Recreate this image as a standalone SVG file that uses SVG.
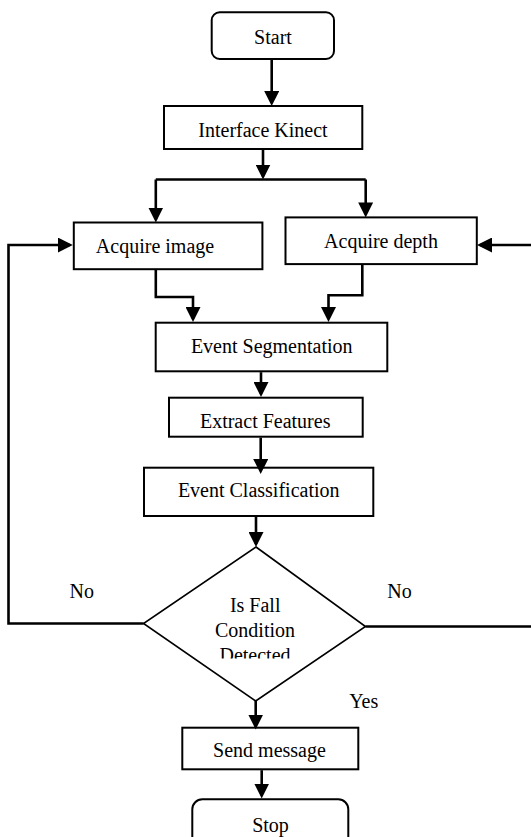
<svg xmlns="http://www.w3.org/2000/svg" width="531" height="837" viewBox="0 0 531 837">
<style>
.box{fill:#fff;stroke:#000;stroke-width:2}
.dia{fill:#fff;stroke:#000;stroke-width:1.6}
.con{fill:none;stroke:#000;stroke-width:2.6;marker-end:url(#ah)}
.ln{fill:none;stroke:#000;stroke-width:2.6}
text{font-family:"Liberation Serif","Times New Roman",Times,serif;font-size:20px;fill:#000;text-anchor:middle}
</style>
<defs>
<marker id="ah" markerUnits="userSpaceOnUse" markerWidth="16" markerHeight="15" refX="12" refY="7.5" orient="auto" viewBox="0 0 16 15">
<path d="M0,0 L15,7.5 L0,15 z" fill="#000"/>
</marker>
<clipPath id="dclip"><rect x="140" y="600" width="240" height="58.5"/></clipPath>
</defs>
<rect width="531" height="837" fill="#fff"/>
<g id="start">
<rect class="box" x="211.7" y="12.3" width="122.3" height="46.7" rx="8"/>
<text x="273" y="44">Start</text>
</g>
<g id="interface">
<rect class="box" x="164" y="106" width="198.3" height="43"/>
<text x="263" y="136.7">Interface Kinect</text>
</g>
<g id="acq-image">
<rect class="box" x="73.8" y="222.5" width="188.6" height="46.7"/>
<text x="155" y="253">Acquire image</text>
</g>
<g id="acq-depth">
<rect class="box" x="285.5" y="217.4" width="191.3" height="46.7"/>
<text x="381" y="248">Acquire depth</text>
</g>
<g id="segmentation">
<rect class="box" x="155.7" y="322.7" width="231.6" height="48.6"/>
<text x="271.7" y="352.7">Event Segmentation</text>
</g>
<g id="features">
<rect class="box" x="169" y="397.7" width="193.7" height="39"/>
<text x="265.2" y="427.7">Extract Features</text>
</g>
<g id="classification">
<rect class="box" x="144" y="467.7" width="229.3" height="48.3"/>
<text x="258.7" y="496.7">Event Classification</text>
</g>
<g id="decision">
<polygon class="dia" points="256,547 365.5,626.5 255.7,701 143.5,623.5"/>
<text x="255.2" y="612">Is Fall</text>
<text x="255" y="636.8">Condition</text>
<text x="255" y="661.5" clip-path="url(#dclip)">Detected</text>
</g>
<g id="labels">
<text x="81.7" y="598">No</text>
<text x="399.5" y="598">No</text>
<text x="363.7" y="708.3">Yes</text>
</g>
<g id="send">
<rect class="box" x="182.3" y="727.7" width="176" height="41.6"/>
<text x="269.5" y="757.3">Send message</text>
</g>
<g id="stop">
<rect class="box" x="192.3" y="799.3" width="156" height="60" rx="10"/>
<text x="270.5" y="831.5">Stop</text>
</g>
<g id="connectors">
<line class="con" x1="271.7" y1="60" x2="271.7" y2="103"/>
<line class="con" x1="263" y1="150" x2="263" y2="176.5"/>
<line class="ln" x1="155.8" y1="179.5" x2="365.7" y2="179.5"/>
<line class="con" x1="155.8" y1="179.5" x2="155.8" y2="219.5"/>
<line class="con" x1="365.7" y1="179.5" x2="365.7" y2="214.4"/>
<path class="con" d="M155.8,270 V297 H193 V319"/>
<path class="con" d="M362.3,265 V295.3 H328.5 V319"/>
<line class="con" x1="261" y1="372.2" x2="261" y2="394"/>
<line class="con" x1="260.7" y1="437.6" x2="260.7" y2="471"/>
<line class="con" x1="256" y1="516.8" x2="256" y2="544"/>
<path class="con" d="M143.5,623.5 H8.5 V245 H69.8"/>
<path class="con" d="M365.5,626.5 H545 V245 H480"/>
<line class="con" x1="255.7" y1="701" x2="255.7" y2="726.5"/>
<line class="con" x1="261.7" y1="770.2" x2="261.7" y2="795.5"/>
</g>
</svg>
